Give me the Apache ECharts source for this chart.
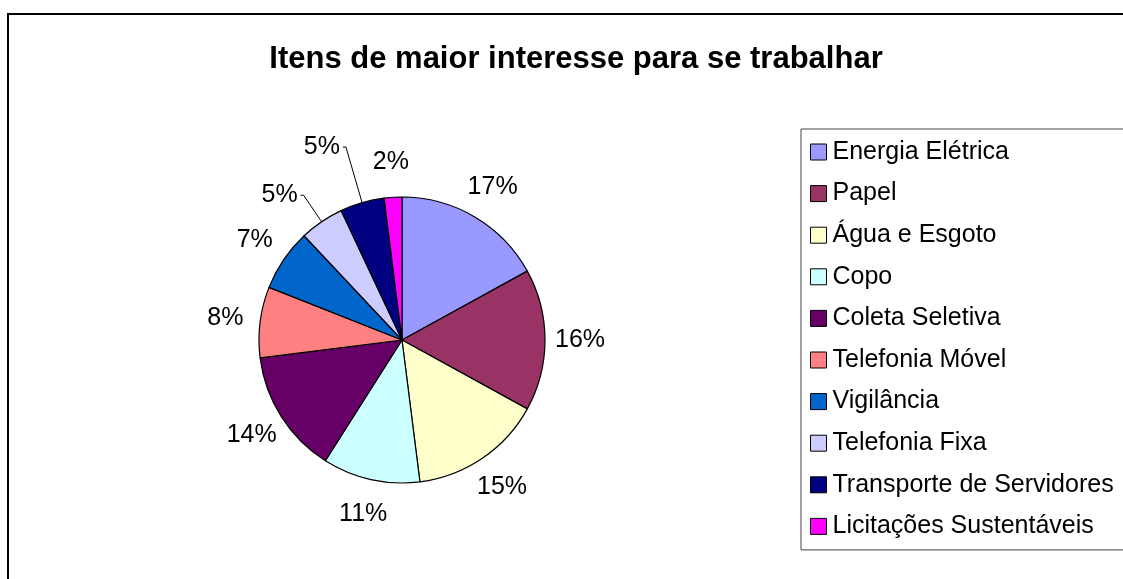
<!DOCTYPE html>
<html>
<head>
<meta charset="utf-8">
<script src="https://cdn.jsdelivr.net/npm/echarts@6/dist/echarts.min.js"></script>
<style>
  html, body { margin: 0; padding: 0; background: #fff; }
  #chart { width: 1123px; height: 579px; }
</style>
</head>
<body>
<div id="chart"></div>
<script>
// dados do gráfico
const categorias = [
  "Energia Elétrica", "Papel", "Água e Esgoto", "Copo", "Coleta Seletiva",
  "Telefonia Móvel", "Vigilância", "Telefonia Fixa", "Transporte de Servidores",
  "Licitações Sustentáveis"
];
const valores = [17, 16, 15, 11, 14, 8, 7, 5, 5, 2];
const cores = ["#9999FF", "#993366", "#FFFFCC", "#CCFFFF", "#660066",
  "#FF8080", "#0066CC", "#CCCCFF", "#000080", "#FF00FF"];
// fatias com rótulo ligado por linha
const comLinha = ["Telefonia Fixa", "Transporte de Servidores"];
const linhaLen = { "Telefonia Fixa": [32, 3], "Transporte de Servidores": [58, 3] };

const fonte = "Arial, 'Liberation Sans', sans-serif";

const myChart = echarts.init(document.getElementById("chart"));

const dadosPizza = categorias.map((nome, i) => {
  const item = { name: nome, value: valores[i], itemStyle: { color: cores[i] } };
  if (comLinha.includes(nome)) {
    item.label = { show: true };
    item.labelLine = { show: true, length: linhaLen[nome][0], length2: linhaLen[nome][1] };
  } else {
    item.label = { show: false };
    item.labelLine = { show: false };
  }
  return item;
});

// anel invisível só para posicionar os rótulos centralizados
const dadosAnel = categorias.map((nome, i) => ({
  name: nome,
  value: valores[i],
  label: { show: !comLinha.includes(nome) }
}));

const option = {
  animation: false,
  title: {
    text: "Itens de maior interesse para se trabalhar",
    left: 571,
    textAlign: "center",
    top: 39,
    textStyle: { fontFamily: fonte, fontSize: 31, fontWeight: "bold", color: "#000" }
  },
  graphic: [
    {
      type: "rect",
      shape: { x: 8, y: 14, width: 1200, height: 700 },
      style: { fill: "none", stroke: "#000", lineWidth: 2 },
      silent: true
    }
  ],
  legend: {
    orient: "vertical",
    left: 801,
    top: 129,
    data: categorias.map((nome, i) => ({ name: nome, itemStyle: { color: cores[i], borderColor: "#000", borderWidth: 1 } })),
    icon: "rect",
    itemWidth: 16,
    itemHeight: 16,
    itemGap: 16.6,
    padding: [10.5, 40, 11, 9],
    borderColor: "#444",
    borderWidth: 1,
    selectedMode: false,
    textStyle: { fontFamily: fonte, fontSize: 25, color: "#000", padding: [0, 0, 0, 1] }
  },
  series: [
    {
      type: "pie",
      center: [402, 340],
      radius: 143,
      startAngle: 90,
      clockwise: true,
      silent: true,
      itemStyle: { borderColor: "#000", borderWidth: 1.2 },
      label: {
        position: "outside",
        formatter: p => p.value + "%",
        fontFamily: fonte,
        fontSize: 25,
        color: "#000",
        distanceToLabelLine: 3
      },
      labelLine: { lineStyle: { color: "#000", width: 1 }, smooth: false },
      data: dadosPizza
    },
    {
      type: "pie",
      center: [402, 340],
      radius: [143, 207],
      startAngle: 90,
      clockwise: true,
      silent: true,
      itemStyle: { color: "rgba(0,0,0,0)", borderWidth: 0 },
      label: {
        position: "inside",
        formatter: p => p.value + "%",
        fontFamily: fonte,
        fontSize: 25,
        color: "#000"
      },
      labelLine: { show: false },
      data: dadosAnel
    }
  ]
};

myChart.setOption(option);
window.addEventListener("resize", () => myChart.resize());
</script>
</body>
</html>
